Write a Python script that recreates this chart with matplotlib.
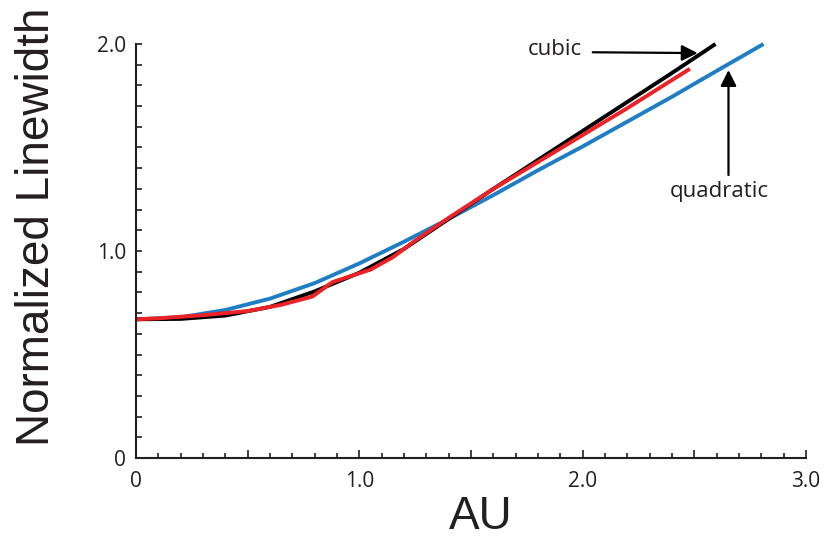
import matplotlib
matplotlib.use("Agg")
import matplotlib.pyplot as plt
from matplotlib.ticker import MultipleLocator, FuncFormatter

# ── data ─────────────────────────────────────────────────────────────────────
quad_x = [0.0, 0.2, 0.4, 0.6, 0.8, 1.0, 1.2, 1.4, 1.6, 1.8, 2.0, 2.2, 2.4, 2.6, 2.81]
quad_y = [0.67, 0.68, 0.715, 0.77, 0.845, 0.94, 1.045, 1.155, 1.27, 1.39,
          1.505, 1.625, 1.745, 1.87, 2.0]

cubic_x = [0.0, 0.2, 0.4, 0.6, 0.8, 1.0, 1.2, 1.4, 1.6, 1.8, 2.0, 2.2, 2.4, 2.595]
cubic_y = [0.67, 0.672, 0.688, 0.73, 0.805, 0.895, 1.01, 1.155, 1.30, 1.44,
           1.58, 1.72, 1.86, 2.0]

data_x = [0.0, 0.1, 0.3, 0.5, 0.65, 0.79, 0.88, 0.95, 1.05, 1.15, 1.25, 1.4,
          1.6, 1.8, 2.0, 2.2, 2.48]
data_y = [0.67, 0.675, 0.69, 0.71, 0.74, 0.78, 0.85, 0.875, 0.91, 0.97, 1.05,
          1.16, 1.30, 1.43, 1.56, 1.69, 1.88]

x_labels = {0: "0", 1: "1.0", 2: "2.0", 3: "3.0"}
y_labels = {0: "0", 1: "1.0", 2: "2.0"}

INK = "#231f20"
BLUE = "#1f7dc4"
RED = "#ec2227"

fig = plt.figure(figsize=(8.28, 5.41), dpi=100)
ax = fig.add_axes([0.1643, 0.1534, 0.8091, 0.7653])

ax.plot(quad_x, quad_y, color=BLUE, lw=2.8, solid_capstyle="butt", clip_on=False)
ax.plot(cubic_x, cubic_y, color="black", lw=2.8, solid_capstyle="butt", clip_on=False)
ax.plot(data_x, data_y, color=RED, lw=2.8, solid_capstyle="butt", clip_on=False)

ax.set_xlim(0, 3.0)
ax.set_ylim(0, 2.0)

# ── axes styling ─────────────────────────────────────────────────────────────
for side in ("top", "right"):
    ax.spines[side].set_visible(False)
for side in ("left", "bottom"):
    ax.spines[side].set_color(INK)
    ax.spines[side].set_linewidth(1.5)

ax.xaxis.set_major_locator(MultipleLocator(0.5))
ax.xaxis.set_minor_locator(MultipleLocator(0.1))
ax.xaxis.set_major_formatter(FuncFormatter(
    lambda v, _: x_labels.get(int(round(v)), "") if abs(v - round(v)) < 1e-6 else ""))
ax.yaxis.set_major_locator(MultipleLocator(1.0))
ax.yaxis.set_minor_locator(MultipleLocator(0.1))
ax.yaxis.set_major_formatter(FuncFormatter(lambda v, _: y_labels.get(int(round(v)), "")))

ax.tick_params(axis="x", which="major", direction="in", length=6, width=1.2,
               color=INK, pad=9)
ax.tick_params(axis="x", which="minor", direction="in", length=3.5, width=1.2,
               color=INK)
ax.tick_params(axis="y", which="both", direction="in", length=4.5, width=1.2,
               color=INK, pad=7)
for lbl in ax.get_xticklabels() + ax.get_yticklabels():
    lbl.set_fontfamily("Open Sans")
    lbl.set_fontsize(15)
    lbl.set_color(INK)

# ── axis titles ──────────────────────────────────────────────────────────────
fig.text(0.581, 0.022, "AU", family="Liberation Sans", fontsize=33,
         color=INK, ha="center", va="baseline")
fig.text(0.045, 0.58, "Normalized Linewidth", family="Liberation Sans",
         fontsize=33, color=INK, rotation=90, ha="center", va="center")

# ── annotations ──────────────────────────────────────────────────────────────
arrow = dict(arrowstyle="-|>", color="black", lw=1.6, mutation_scale=24,
             shrinkA=0, shrinkB=0)
ax.annotate("", xy=(2.515, 1.956), xytext=(2.045, 1.96), arrowprops=arrow,
            annotation_clip=False)
ax.text(1.875, 1.975, "cubic", family="Open Sans", fontsize=16, color=INK,
        ha="center", va="center")
ax.annotate("", xy=(2.653, 1.874), xytext=(2.653, 1.367), arrowprops=arrow,
            annotation_clip=False)
ax.text(2.613, 1.285, "quadratic", family="Open Sans", fontsize=16, color=INK,
        ha="center", va="center")

fig.savefig("out.png", dpi=100)
